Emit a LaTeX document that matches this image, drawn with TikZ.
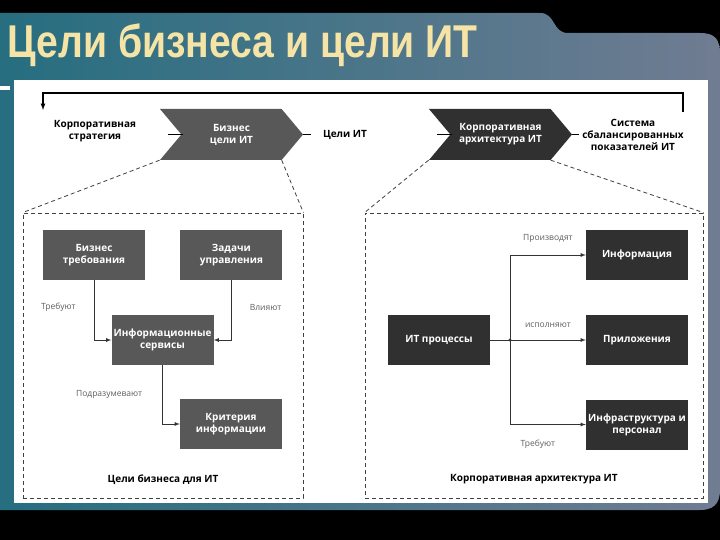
\documentclass[tikz,border=0pt]{standalone}
\usepackage{fontspec}
\setmainfont{Open Sans}
\newfontfamily\titlefont{Liberation Sans}
\usetikzlibrary{arrows,shapes.symbols,positioning,calc}

\definecolor{slateL}{RGB}{38,110,128}
\definecolor{slateR}{RGB}{112,124,146}
\definecolor{titlegold}{RGB}{245,228,165}
\definecolor{boxgray}{RGB}{88,88,88}
\definecolor{boxdark}{RGB}{48,48,48}
\definecolor{labelgray}{RGB}{95,95,95}

\begin{document}
\begin{tikzpicture}[x=1pt,y=-1pt,align=center,>=latex]
\tikzstyle{box}=[fill=boxgray,text=white,font=\fontsize{10}{12}\selectfont\bfseries,minimum width=102pt,minimum height=50pt,inner sep=1pt]
\tikzstyle{darkbox}=[box,fill=boxdark]
\tikzstyle{chevron}=[signal,signal to=east,signal from=west,signal pointer angle=100,minimum width=143pt,minimum height=51pt,inner sep=0pt,text=white,font=\fontsize{10}{12}\selectfont\bfseries]
\tikzstyle{sidetext}=[font=\fontsize{10}{12}\selectfont\bfseries,inner sep=0pt]
\tikzstyle{lbl}=[font=\fontsize{8.5}{10}\selectfont,text=labelgray,inner sep=0pt]
\tikzstyle{zone}=[draw=black!75,dash pattern=on 4pt off 3pt,line width=0.8pt,minimum height=285pt,inner sep=0pt]
\tikzstyle{zonelink}=[draw=black!75,dash pattern=on 4pt off 3pt,line width=0.8pt]
\tikzstyle{flow}=[->,draw=black!80,line width=0.8pt]

\useasboundingbox (0,0) rectangle (720,540);
% slide background
\fill[black] (0,0) rectangle (720,540);
\shade[left color=slateL,right color=slateR] (0,13) -- (540,13) .. controls (556,13) and (552,33) .. (568,33) -- (700,33) .. controls (716,33) and (720,40) .. (720,55) -- (720,490) .. controls (720,505) and (712,510) .. (700,510) -- (0,510) -- cycle;
\fill[white] (14,80) rectangle (708,503);
\fill[white] (0,86) rectangle (10,90);

\node[anchor=west,text=titlegold,font=\titlefont\fontsize{46}{46}\selectfont\bfseries] (title) at (4,45) {\scalebox{0.85}[1]{Цели бизнеса и цели ИТ}};

% top row
\coordinate (loopL) at (43,110);
\coordinate (loopR) at (683,112);
\draw[<-,line width=1.2pt] (loopL) -- ++(0,-17) -| (loopR);

\node[chevron,fill=boxgray] (bizgoals) at (231.5,134.5) {Бизнес\\цели ИТ};
\node[chevron,fill=boxdark] (eaarch) at (500.5,134.5) {Корпоративная\\архитектура ИТ};
\coordinate (biznotch) at ($(bizgoals.south west)!.5!(bizgoals.north west)+(23,0)$);
\coordinate (eanotch) at ($(eaarch.south west)!.5!(eaarch.north west)+(23,0)$);

\node[sidetext] (strat) at (95,131) {Корпоративная\\стратегия};
\node[sidetext] (itgoals) at (345,135) {Цели ИТ};
\node[sidetext] (bsc) at (633,135) {Система\\сбалансированных\\показателей ИТ};

\draw[line width=1pt] (biznotch) -- ++(-15,0);
\draw[line width=1pt,shorten >=12pt] (bizgoals.east) -- (itgoals.west |- bizgoals.east);
\draw[line width=1pt] (eanotch) -- ++(-15,0);
\draw[line width=1pt,shorten >=3pt] (eaarch.east) -- (bsc.west |- eaarch.east);

% zones
\node[zone,minimum width=280pt] (bizzone) at (163,355.5) {};
\node[zone,minimum width=338pt] (eazone) at (534,355.5) {};
\draw[zonelink] (bizgoals.south west) -- (bizzone.north west);
\draw[zonelink] (bizgoals.south east) -- (bizzone.north east);
\draw[zonelink] (eaarch.south west) -- (eazone.north west);
\draw[zonelink] (eaarch.south east) -- (eazone.north east);
\node[sidetext,above=14pt of bizzone.south] (bizzonetitle) {Цели бизнеса для ИТ};
\node[sidetext,above=14pt of eazone.south] (eazonetitle) {Корпоративная архитектура ИТ};

% business goals for IT
\node[box] (bizreq) at (94,255) {Бизнес\\требования};
\node[box] (govreq) [right=35pt of bizreq] {Задачи\\управления};
\node[box] (infoserv) at (162.5,340) {Информационные\\сервисы};
\node[box] (infocrit) at (231,424) {Критерия\\информации};

\draw[flow] (bizreq) |- node[pos=.23,left=18pt,lbl] {Требуют} (infoserv);
\draw[flow] (govreq) |- node[pos=.23,right=18pt,lbl] {Влияют} (infoserv);
\draw[flow] (infoserv) |- node[pos=.245,left=20pt,lbl] {Подразумевают} (infocrit);

% enterprise architecture for IT
\node[darkbox] (itproc) at (439,340) {ИТ процессы};
\node[darkbox] (information) at (637,255) {Информация};
\node[darkbox] (apps) at (637,340) {Приложения};
\node[darkbox] (infra) at (637,424.5) {Инфраструктура и\\персонал};
\coordinate (fork) at (510,340);

\draw[draw=black!80,line width=0.8pt] (itproc) -- (fork);
\fill[black!80] (fork) circle (1.6);
\draw[flow] (fork) |- node[pos=.75,above=12pt,lbl] {Производят} (information);
\draw[flow] (fork) -- node[above=12pt,lbl] {исполняют} (apps);
\draw[flow] (fork) |- node[pos=.75,below=15pt,xshift=-10pt,lbl] {Требуют} (infra);
\end{tikzpicture}
\end{document}
